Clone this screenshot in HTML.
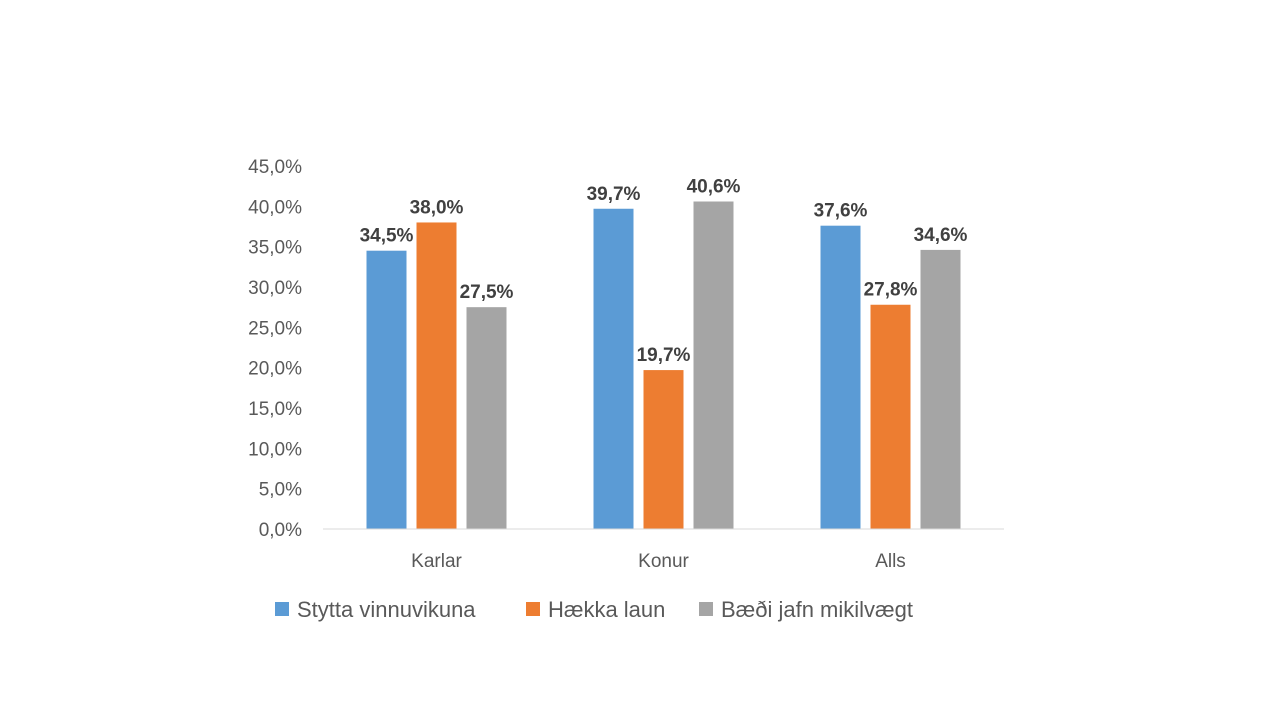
<!DOCTYPE html>
<html><head><meta charset="utf-8"><style>
body{margin:0;background:#fff;}
svg{display:block;font-family:"Liberation Sans",Calibri,sans-serif;}
</style></head><body>
<svg id="chart" width="1280" height="720" viewBox="0 0 1280 720">
<g id="yaxis"></g>
<g id="bars"></g>
<line x1="323" y1="529" x2="1004" y2="529" stroke="#d9d9d9" stroke-width="1"/>
<g id="xaxis"></g>
<g id="legend"></g>
</svg>
<script>
const categories=["Karlar","Konur","Alls"];
const seriesNames=["Stytta vinnuvikuna","Hækka laun","Bæði jafn mikilvægt"];
const stytta=[34.5,39.7,37.6];
const haekka=[38.0,19.7,27.8];
const baedi=[27.5,40.6,34.6];
const yTicks=[0,5,10,15,20,25,30,35,40,45];
const colors=["#5b9bd5","#ed7d31","#a5a5a5"];
const series=[stytta,haekka,baedi];
const NS="http://www.w3.org/2000/svg";
const y0=529,y45=166,x0=323,x1=1004;
const y=v=>y0-(v/45)*(y0-y45);
const gw=(x1-x0)/categories.length;
const gc=i=>x0+gw*(i+0.5);
const bw=40,gap=10;
function mk(t,a,p){const e=document.createElementNS(NS,t);for(const k in a)e.setAttribute(k,a[k]);p.appendChild(e);return e;}
const fmt=v=>v.toFixed(1).replace('.',',')+'%';
const ya=document.getElementById('yaxis');
yTicks.forEach(v=>{const t=mk('text',{x:302,y:y(v)+7,'text-anchor':'end','font-size':19,fill:'#595959'},ya);t.textContent=fmt(v);

});
const bg=document.getElementById('bars');
categories.forEach((c,i)=>{series.forEach((s,j)=>{
const cx=gc(i)+(j-1)*(bw+gap);
const r=mk('rect',{x:cx-bw/2,y:y(s[i]),width:bw,height:y0-y(s[i]),fill:colors[j]},bg);


const t=mk('text',{x:cx,y:y(s[i])-9,'text-anchor':'middle','font-size':19,'font-weight':'bold',fill:'#404040'},bg);
t.textContent=fmt(s[i]);


});
const t=mk('text',{x:gc(i),y:567,'text-anchor':'middle','font-size':19,fill:'#595959'},document.getElementById('xaxis'));
t.textContent=c;


});
const lg=document.getElementById('legend');
const lx=[275,526,699];
seriesNames.forEach((n,j)=>{
const r=mk('rect',{x:lx[j],y:602,width:14,height:14,fill:colors[j]},lg);


const t=mk('text',{x:lx[j]+22,y:617,'font-size':22,fill:'#595959'},lg);
t.textContent=n;


});
</script>
</body></html>
